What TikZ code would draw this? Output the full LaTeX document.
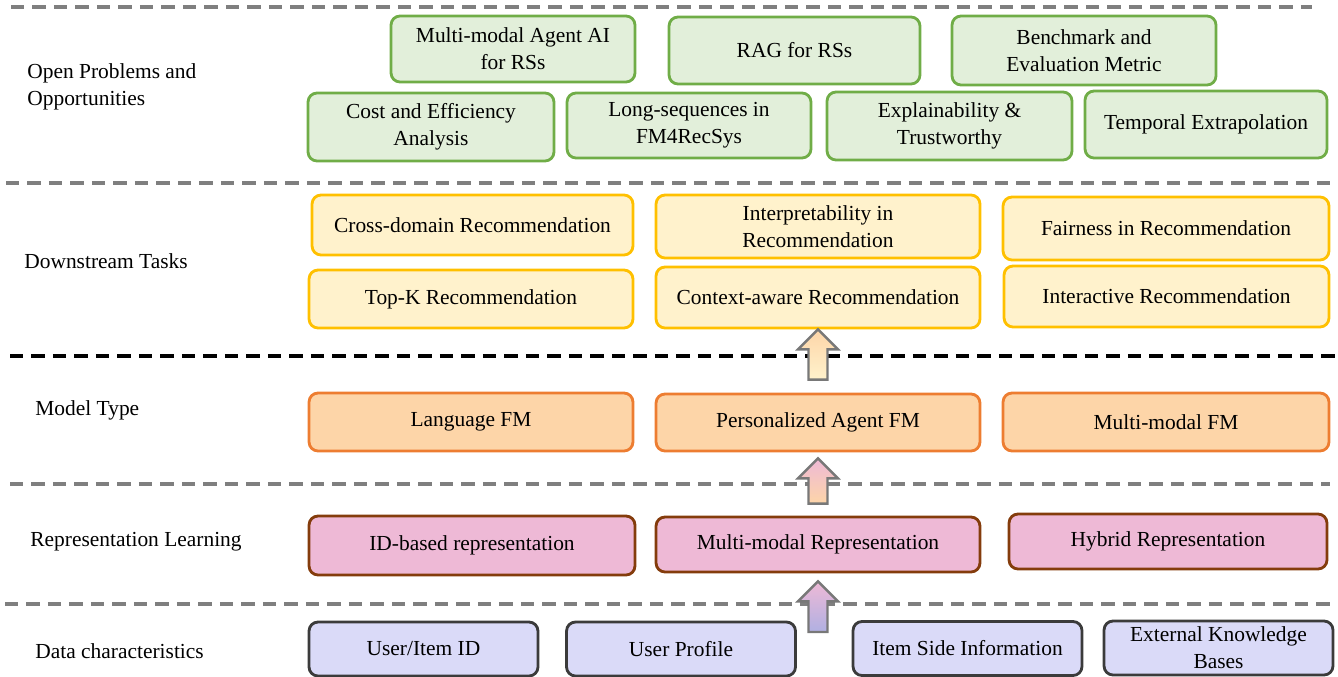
\documentclass[tikz,border=0pt]{standalone}
\usepackage{fontspec}
\setmainfont{Liberation Serif}
\usetikzlibrary{calc}

\definecolor{opfill}{HTML}{E2EFDA}
\definecolor{opline}{HTML}{70AD47}
\definecolor{taskfill}{HTML}{FFF2CC}
\definecolor{taskline}{HTML}{FFC000}
\definecolor{modelfill}{HTML}{FDD5A8}
\definecolor{modelline}{HTML}{ED7D31}
\definecolor{repfill}{HTML}{EEB9D6}
\definecolor{repline}{HTML}{843C0C}
\definecolor{datafill}{HTML}{DADAF8}
\definecolor{dataline}{HTML}{3B3B3B}
\definecolor{arrowblue}{HTML}{B0B0E2}
\definecolor{sepgray}{HTML}{7F7F7F}
\definecolor{arrowgray}{HTML}{787878}

% fat shaded arrow: from, to, bottom colour, top colour
\newcommand{\fatarrow}[4]{%
  \path[draw=arrowgray, line width=1.4pt, bottom color=#3, top color=#4]
    let \p1=(#1), \p2=(#2) in
    (\x1-0.19cm,\y1) -- (\x1-0.19cm,\y2-0.4cm) -- (\x1-0.4cm,\y2-0.4cm) -- (\x1,\y2)
    -- (\x1+0.4cm,\y2-0.4cm) -- (\x1+0.19cm,\y2-0.4cm) -- (\x1+0.19cm,\y1) -- cycle;}

\begin{document}
\begin{tikzpicture}[x=0.02cm, y=-0.02cm,
  box/.style={rectangle, rounded corners=0.18cm, line width=1.6pt, align=center,
    inner sep=0pt, font=\fontsize{12.2}{15.5}\selectfont},
  opbox/.style={box, draw=opline, fill=opfill, minimum width=4.9cm, minimum height=1.34cm},
  taskbox/.style={box, draw=taskline, fill=taskfill, minimum width=6.48cm, minimum height=1.2cm},
  modelbox/.style={box, draw=modelline, fill=modelfill, minimum width=6.48cm, minimum height=1.16cm},
  repbox/.style={box, draw=repline, fill=repfill, minimum width=6.48cm, minimum height=1.12cm},
  databox/.style={box, draw=dataline, fill=datafill, minimum width=4.58cm, minimum height=1.08cm},
  layer/.style={anchor=west, align=left, inner sep=0pt, font=\fontsize{12.2}{15.5}\selectfont},
  sepline/.style={draw=sepgray, line width=2.3pt, dash pattern=on 0.27cm off 0.16cm}]

  \useasboundingbox (0,0) rectangle (1338,676);

  % layer separators
  \draw[sepline] (11,7) -- (1312,7);
  \draw[sepline] (6,183) -- (1330,183);
  \draw[sepline, draw=black] (10,356) -- (1335,356);
  \draw[sepline] (10,484) -- (1330,484);
  \draw[sepline] (5,604) -- (1330,604);

  % layer names
  \node[layer] (lOpen) at (27,87) {Open Problems and\\Opportunities};
  \node[layer] (lTask) at (24,261) {Downstream Tasks};
  \node[layer] (lModel) at (35,410) {Model Type};
  \node[layer] (lRep) at (30,542) {Representation Learning};
  \node[layer] (lData) at (35,651) {Data characteristics};

  % open problems
  \node[opbox, minimum width=4.88cm, minimum height=1.32cm] (opAgent) at (513,49) {Multi-modal Agent AI\\for RSs};
  \node[opbox, minimum width=5.02cm] (opRAG) at (794.5,50.5) {RAG for RSs};
  \node[opbox, minimum width=5.28cm, minimum height=1.38cm] (opBench) at (1084,50.5) {Benchmark and\\Evaluation Metric};
  \node[opbox, minimum width=4.92cm, minimum height=1.36cm] (opCost) at (431,127) {Cost and Efficiency\\Analysis};
  \node[opbox, minimum width=4.88cm, minimum height=1.3cm] (opLong) at (689,125.5) {Long-sequences in\\FM4RecSys};
  \node[opbox, minimum height=1.36cm] (opExpl) at (949.5,126) {Explainability \&\\Trustworthy};
  \node[opbox, minimum width=4.84cm] (opTemp) at (1206,124.5) {Temporal Extrapolation};

  % downstream tasks
  \node[taskbox, minimum width=6.42cm] (taskCross) at (472.5,225) {Cross-domain Recommendation};
  \node[taskbox, minimum height=1.26cm] (taskInterp) at (818,226.5) {Interpretability in\\Recommendation};
  \node[taskbox, minimum width=6.52cm, minimum height=1.26cm] (taskFair) at (1166,228.5) {Fairness in Recommendation};
  \node[taskbox, minimum height=1.16cm] (taskTopK) at (471,299) {Top-K Recommendation};
  \node[taskbox, minimum height=1.22cm] (taskCtx) at (818,297.5) {Context-aware Recommendation};
  \node[taskbox, minimum width=6.5cm, minimum height=1.22cm] (taskInter) at (1166.5,296.5) {Interactive Recommendation};

  % model type
  \node[modelbox] (modelLang) at (471,422) {Language FM};
  \node[modelbox, minimum height=1.14cm] (modelAgent) at (818,422.5) {Personalized Agent FM};
  \node[modelbox, minimum width=6.52cm] (modelMM) at (1166,422) {Multi-modal FM};

  % representation learning
  \node[repbox, minimum width=6.52cm, minimum height=1.18cm] (repID) at (472,545.5) {ID-based representation};
  \node[repbox, minimum height=1.1cm] (repMM) at (818,544.5) {Multi-modal Representation};
  \node[repbox, minimum width=6.36cm, minimum height=1.1cm] (repHyb) at (1168,541.5) {Hybrid Representation};

  % data characteristics
  \node[databox] (dataID) at (423.5,649) {User/Item ID};
  \node[databox] (dataProf) at (681,649) {User Profile};
  \node[databox] (dataSide) at (967.5,648.5) {Item Side Information};
  \node[databox] (dataExt) at (1218.5,648) {External Knowledge\\Bases};

  % flow between layers
  \coordinate (dataTop) at (818,632);
  \fatarrow{$(modelAgent.north)+(0,-13)$}{taskCtx.south}{taskfill}{modelfill}
  \fatarrow{$(repMM.north)+(0,-12)$}{$(modelAgent.south)+(0,6)$}{modelfill}{repfill}
  \fatarrow{dataTop}{$(repMM.south)+(0,8)$}{arrowblue}{repfill}

\end{tikzpicture}
\end{document}
